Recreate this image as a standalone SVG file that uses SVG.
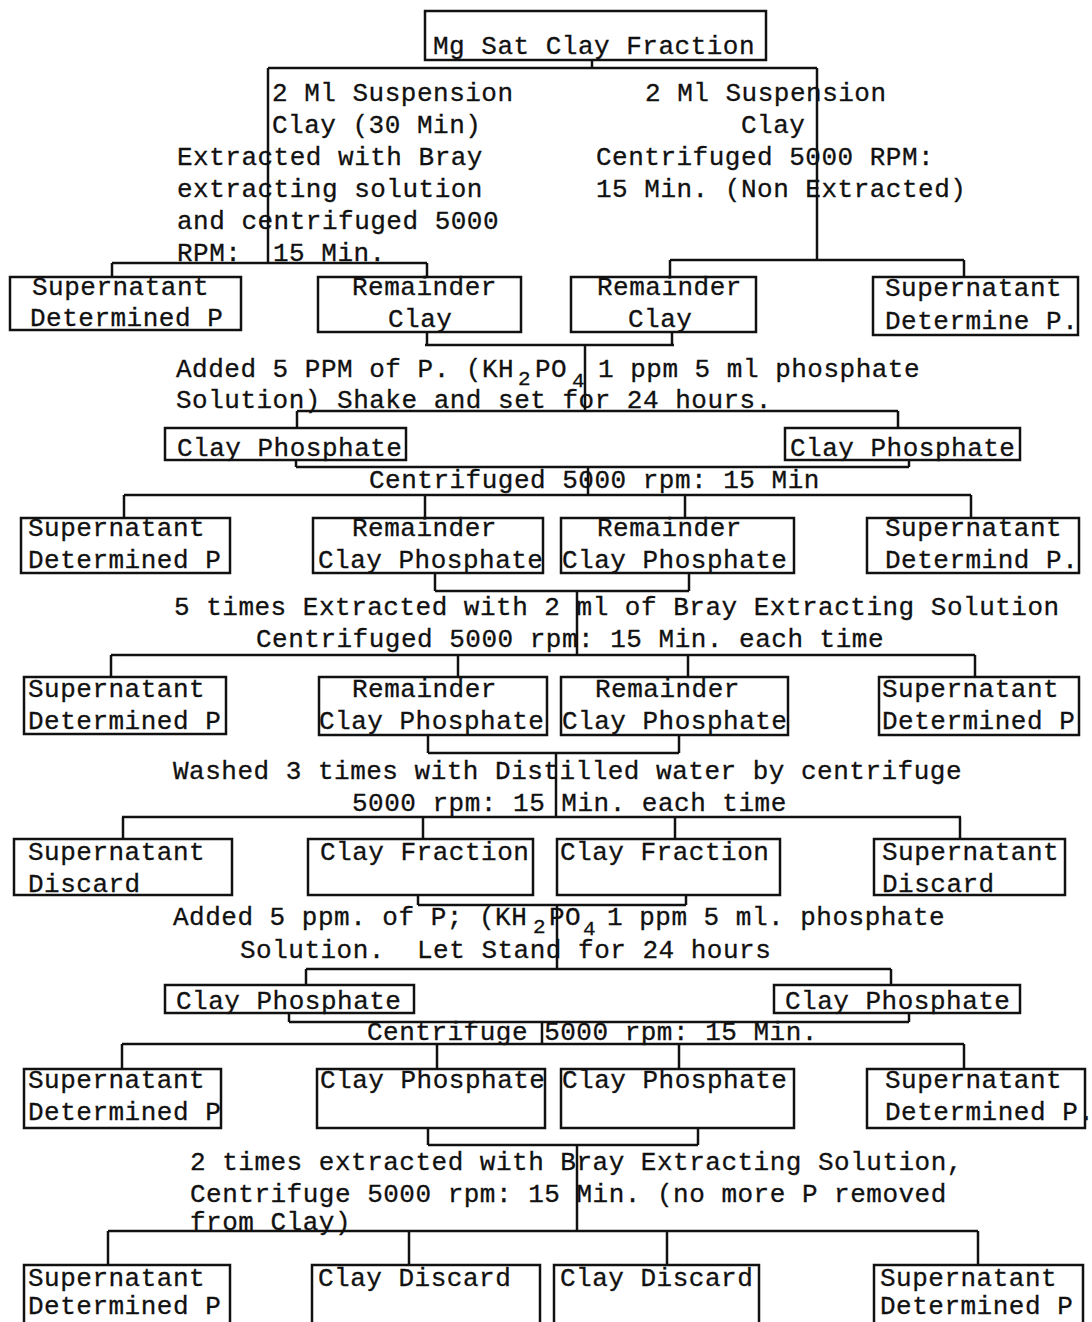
<svg xmlns="http://www.w3.org/2000/svg" width="1092" height="1322" viewBox="0 0 1092 1322">
<style>
.bx{fill:none;stroke:#111;stroke-width:2.5}
.cn line{stroke:#111;stroke-width:2.5}
text{font-family:"Liberation Mono","DejaVu Sans Mono",monospace;font-size:26px;letter-spacing:0.5px;fill:#111;stroke:#111;stroke-width:0.3}
.sub{font-size:21px}
</style>
<rect width="1092" height="1322" fill="#fff"/>
<g id="connectors" class="cn">
<line x1="592" y1="60" x2="592" y2="68"/>
<line x1="268" y1="68" x2="817" y2="68"/>
<line x1="268" y1="68" x2="268" y2="263"/>
<line x1="817" y1="68" x2="817" y2="260"/>
<line x1="112" y1="263" x2="427" y2="263"/>
<line x1="112" y1="263" x2="112" y2="277"/>
<line x1="427" y1="263" x2="427" y2="277"/>
<line x1="670" y1="260" x2="964" y2="260"/>
<line x1="670" y1="260" x2="670" y2="277"/>
<line x1="964" y1="260" x2="964" y2="277"/>

<line x1="427" y1="332" x2="427" y2="345"/>
<line x1="672" y1="332" x2="672" y2="345"/>
<line x1="425" y1="345" x2="674" y2="345"/>
<line x1="585" y1="345" x2="585" y2="411"/>
<line x1="297" y1="411" x2="898" y2="411"/>
<line x1="297" y1="411" x2="297" y2="428"/>
<line x1="898" y1="411" x2="898" y2="428"/>

<line x1="296" y1="460" x2="296" y2="467"/>
<line x1="909" y1="460" x2="909" y2="467"/>
<line x1="296" y1="467" x2="909" y2="467"/>
<line x1="588" y1="467" x2="588" y2="495"/>
<line x1="124" y1="495" x2="971" y2="495"/>
<line x1="124" y1="495" x2="124" y2="518"/>
<line x1="425" y1="495" x2="425" y2="518"/>
<line x1="685" y1="495" x2="685" y2="518"/>
<line x1="971" y1="495" x2="971" y2="518"/>

<line x1="435" y1="573" x2="435" y2="591"/>
<line x1="689" y1="573" x2="689" y2="591"/>
<line x1="435" y1="591" x2="689" y2="591"/>
<line x1="577" y1="591" x2="577" y2="655"/>
<line x1="111" y1="655" x2="975" y2="655"/>
<line x1="111" y1="655" x2="111" y2="677"/>
<line x1="458" y1="655" x2="458" y2="677"/>
<line x1="688" y1="655" x2="688" y2="677"/>
<line x1="975" y1="655" x2="975" y2="677"/>

<line x1="428" y1="735" x2="428" y2="753"/>
<line x1="679" y1="735" x2="679" y2="753"/>
<line x1="428" y1="753" x2="679" y2="753"/>
<line x1="556" y1="753" x2="556" y2="817"/>
<line x1="122" y1="817" x2="961" y2="817"/>
<line x1="123" y1="817" x2="123" y2="839"/>
<line x1="423" y1="817" x2="423" y2="839"/>
<line x1="675" y1="817" x2="675" y2="839"/>
<line x1="960" y1="817" x2="960" y2="839"/>

<line x1="418" y1="895" x2="418" y2="905"/>
<line x1="686" y1="895" x2="686" y2="905"/>
<line x1="418" y1="905" x2="686" y2="905"/>
<line x1="557" y1="905" x2="557" y2="969"/>
<line x1="306" y1="969" x2="891" y2="969"/>
<line x1="306" y1="969" x2="306" y2="985"/>
<line x1="891" y1="969" x2="891" y2="985"/>

<line x1="289" y1="1013" x2="289" y2="1022"/>
<line x1="909" y1="1013" x2="909" y2="1022"/>
<line x1="289" y1="1022" x2="909" y2="1022"/>
<line x1="542" y1="1022" x2="542" y2="1044"/>
<line x1="122" y1="1044" x2="964" y2="1044"/>
<line x1="122" y1="1044" x2="122" y2="1069"/>
<line x1="437" y1="1044" x2="437" y2="1069"/>
<line x1="679" y1="1044" x2="679" y2="1069"/>
<line x1="964" y1="1044" x2="964" y2="1069"/>

<line x1="428" y1="1128" x2="428" y2="1145"/>
<line x1="698" y1="1128" x2="698" y2="1145"/>
<line x1="428" y1="1145" x2="698" y2="1145"/>
<line x1="577" y1="1145" x2="577" y2="1231"/>
<line x1="108" y1="1231" x2="978" y2="1231"/>
<line x1="108" y1="1231" x2="108" y2="1265"/>
<line x1="409" y1="1231" x2="409" y2="1265"/>
<line x1="667" y1="1231" x2="667" y2="1265"/>
<line x1="978" y1="1231" x2="978" y2="1265"/>
</g>

<g id="n-mg"><rect class="bx" x="425" y="11" width="341" height="49"/><text x="433" y="54">Mg Sat Clay Fraction</text></g>

<g id="lbl-left-susp">
<text x="272" y="101">2 Ml Suspension</text>
<text x="272" y="133">Clay (30 Min)</text>
<text x="177" y="165">Extracted with Bray</text>
<text x="177" y="197">extracting solution</text>
<text x="177" y="229">and centrifuged 5000</text>
<text x="177" y="261">RPM:</text><text x="273" y="261">15 Min.</text>
</g>
<g id="lbl-right-susp">
<text x="645" y="101">2 Ml Suspension</text>
<text x="741" y="133">Clay</text>
<text x="596" y="165">Centrifuged 5000 RPM:</text>
<text x="596" y="197">15 Min. (Non Extracted)</text>
</g>

<g id="n1a"><rect class="bx" x="10" y="277" width="231" height="53"/><text x="32" y="295">Supernatant</text><text x="30" y="326">Determined P</text></g>
<g id="n1b"><rect class="bx" x="318" y="277" width="203" height="55"/><text x="352" y="295">Remainder</text><text x="388" y="327">Clay</text></g>
<g id="n1c"><rect class="bx" x="571" y="277" width="185" height="55"/><text x="597" y="295">Remainder</text><text x="628" y="327">Clay</text></g>
<g id="n1d"><rect class="bx" x="873" y="277" width="205" height="58"/><text x="885" y="296">Supernatant</text><text x="885" y="329">Determine P.</text></g>

<g id="lbl-added1">
<text x="176" y="377">Added 5 PPM of P. (KH</text>
<text class="sub" x="518" y="385">2</text>
<text x="535" y="377">PO</text>
<text class="sub" x="572" y="387">4</text>
<text x="598" y="377">1 ppm 5 ml phosphate</text>
<text x="176" y="408">Solution) Shake and set for 24 hours.</text>
</g>

<g id="n2a"><rect class="bx" x="165" y="428" width="241" height="32"/><text x="177" y="456">Clay Phosphate</text></g>
<g id="n2b"><rect class="bx" x="785" y="428" width="235" height="32"/><text x="790" y="456">Clay Phosphate</text></g>

<g id="lbl-cent1"><text x="369" y="488">Centrifuged 5000 rpm: 15 Min</text></g>

<g id="n3a"><rect class="bx" x="21" y="518" width="209" height="55"/><text x="28" y="536">Supernatant</text><text x="28" y="568">Determined P</text></g>
<g id="n3b"><rect class="bx" x="313" y="518" width="230" height="55"/><text x="352" y="536">Remainder</text><text x="318" y="568">Clay Phosphate</text></g>
<g id="n3c"><rect class="bx" x="561" y="518" width="233" height="55"/><text x="597" y="536">Remainder</text><text x="562" y="568">Clay Phosphate</text></g>
<g id="n3d"><rect class="bx" x="867" y="518" width="212" height="55"/><text x="885" y="536">Supernatant</text><text x="885" y="568">Determind P.</text></g>

<g id="lbl-extract5">
<text x="174" y="615">5 times Extracted with 2 ml of Bray Extracting Solution</text>
<text x="256" y="647">Centrifuged 5000 rpm: 15 Min. each time</text>
</g>

<g id="n4a"><rect class="bx" x="24" y="677" width="202" height="57"/><text x="28" y="697">Supernatant</text><text x="28" y="729">Determined P</text></g>
<g id="n4b"><rect class="bx" x="319" y="677" width="228" height="58"/><text x="352" y="697">Remainder</text><text x="319" y="729">Clay Phosphate</text></g>
<g id="n4c"><rect class="bx" x="561" y="677" width="227" height="58"/><text x="595" y="697">Remainder</text><text x="562" y="729">Clay Phosphate</text></g>
<g id="n4d"><rect class="bx" x="879" y="677" width="200" height="58"/><text x="882" y="697">Supernatant</text><text x="882" y="729">Determined P</text></g>

<g id="lbl-washed">
<text x="173" y="779">Washed 3 times with Distilled water by centrifuge</text>
<text x="352" y="811">5000 rpm: 15 Min. each time</text>
</g>

<g id="n5a"><rect class="bx" x="14" y="839" width="218" height="56"/><text x="28" y="860">Supernatant</text><text x="28" y="892">Discard</text></g>
<g id="n5b"><rect class="bx" x="308" y="839" width="225" height="56"/><text x="320" y="860">Clay Fraction</text></g>
<g id="n5c"><rect class="bx" x="557" y="839" width="223" height="56"/><text x="560" y="860">Clay Fraction</text></g>
<g id="n5d"><rect class="bx" x="874" y="839" width="191" height="56"/><text x="882" y="860">Supernatant</text><text x="882" y="892">Discard</text></g>

<g id="lbl-added2">
<text x="173" y="925">Added 5 ppm. of P; (KH</text>
<text class="sub" x="533" y="933">2</text>
<text x="549" y="925">PO</text>
<text class="sub" x="583" y="935">4</text>
<text x="607" y="925">1 ppm 5 ml. phosphate</text>
<text x="240" y="958">Solution.</text><text x="417" y="958">Let Stand for 24 hours</text>
</g>

<g id="n6a"><rect class="bx" x="165" y="985" width="249" height="28"/><text x="176" y="1009">Clay Phosphate</text></g>
<g id="n6b"><rect class="bx" x="774" y="985" width="246" height="28"/><text x="785" y="1009">Clay Phosphate</text></g>

<g id="lbl-cent2"><text x="367" y="1040">Centrifuge 5000 rpm: 15 Min.</text></g>

<g id="n7a"><rect class="bx" x="24" y="1069" width="197" height="59"/><text x="28" y="1088">Supernatant</text><text x="28" y="1120">Determined P</text></g>
<g id="n7b"><rect class="bx" x="317" y="1069" width="228" height="59"/><text x="320" y="1088">Clay Phosphate</text></g>
<g id="n7c"><rect class="bx" x="561" y="1069" width="233" height="59"/><text x="562" y="1088">Clay Phosphate</text></g>
<g id="n7d"><rect class="bx" x="867" y="1069" width="218" height="59"/><text x="885" y="1088">Supernatant</text><text x="885" y="1120">Determined P.</text></g>

<g id="lbl-extract2">
<text x="190" y="1170">2 times extracted with Bray Extracting Solution,</text>
<text x="190" y="1202">Centrifuge 5000 rpm: 15 Min. (no more P removed</text>
<text x="190" y="1230">from Clay)</text>
</g>

<g id="n9a"><rect class="bx" x="24" y="1265" width="206" height="70"/><text x="28" y="1286">Supernatant</text><text x="28" y="1314">Determined P</text></g>
<g id="n9b"><rect class="bx" x="312" y="1265" width="228" height="70"/><text x="318" y="1286">Clay Discard</text></g>
<g id="n9c"><rect class="bx" x="554" y="1265" width="205" height="70"/><text x="560" y="1286">Clay Discard</text></g>
<g id="n9d"><rect class="bx" x="874" y="1265" width="209" height="70"/><text x="880" y="1286">Supernatant</text><text x="880" y="1314">Determined P</text></g>
</svg>
